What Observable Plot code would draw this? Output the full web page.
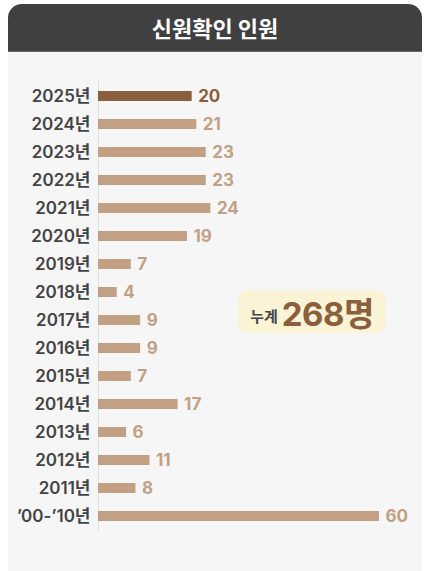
<!DOCTYPE html>
<html>
<head>
<meta charset="utf-8">
<script src="https://cdn.jsdelivr.net/npm/d3@7"></script>
<script src="https://cdn.jsdelivr.net/npm/@observablehq/plot@0.6"></script>
<style>
  html, body { margin: 0; padding: 0; background: #ffffff; width: 424px; height: 571px; overflow: hidden; }
  body { font-family: Inter, "Noto Sans CJK KR", "Noto Sans", sans-serif; }
  #card { position: absolute; left: 8px; top: 4px; width: 414px; height: 600px; background: #f6f6f6; border-radius: 14px 14px 0 0; overflow: hidden; }
  #header { height: 47px; background: #404040; border-bottom: 1px solid #6a6a6a; color: #ffffff; font-family: "Noto Sans CJK KR", sans-serif; font-weight: 700; font-size: 22px; text-align: center; line-height: 47px; }
  #chart { position: absolute; left: 0; top: 48px; }
  #badge { position: absolute; left: 230px; top: 286px; width: 148px; height: 43px; background: #faf3d5; border-radius: 11px; display: flex; align-items: center; justify-content: center; gap: 4px; }
  #badge .lbl { font-family: "Noto Sans CJK KR", sans-serif; font-size: 15px; font-weight: 700; color: #444444; margin-top: 7px; }
  #badge .num { font-size: 33px; font-weight: 700; color: #8b5e3c; letter-spacing: -0.5px; }
</style>
</head>
<body>
<div id="card">
  <div id="header"></div>
  <div id="chart"></div>
  <div id="badge"><span class="lbl"></span><span class="num"></span></div>
</div>
<script>
const title = "신원확인 인원";
const categories = ["2025년","2024년","2023년","2022년","2021년","2020년","2019년","2018년","2017년","2016년","2015년","2014년","2013년","2012년","2011년","’00-’10년"];
const values = [20, 21, 23, 23, 24, 19, 7, 4, 9, 9, 7, 17, 6, 11, 8, 60];
const highlight = ["2025년"];
const totalLabel = "누계";
const totalUnit = "명";

document.getElementById("header").textContent = title;
const total = d3.sum(values);
document.querySelector("#badge .lbl").textContent = totalLabel;
document.querySelector("#badge .num").textContent = total + totalUnit;

const data = categories.map((c, i) => ({cat: c, value: values[i], hi: highlight.includes(c)}));
const dark = "#8b5e3c", light = "#c1a084";

const chart = Plot.plot({
  width: 414,
  height: 519,
  marginLeft: 90,
  marginRight: 43,
  marginTop: 29,
  marginBottom: 40,
  style: { background: "transparent", fontFamily: "Inter, 'Noto Sans CJK KR', sans-serif" },
  x: { domain: [0, 60], axis: null },
  y: { domain: categories, padding: 0, axis: null },
  marks: [
    Plot.ruleX([0], { stroke: "#dedede", strokeWidth: 1 }),
    Plot.barX(data, { y: "cat", x: "value", fill: d => d.hi ? dark : light, insetTop: 9, insetBottom: 9 }),
    Plot.text(data, { y: "cat", x: "value", text: d => String(d.value), dx: 6, textAnchor: "start", fill: d => d.hi ? dark : light, fontSize: 17, fontWeight: 700 }),
    Plot.axisY({ tickSize: 0, tickPadding: 8, fontSize: 17, fontWeight: 600, fill: "#444444", anchor: "left", label: null, textAnchor: "end" })
  ]
});
document.getElementById("chart").appendChild(chart);
</script>
</body>
</html>
